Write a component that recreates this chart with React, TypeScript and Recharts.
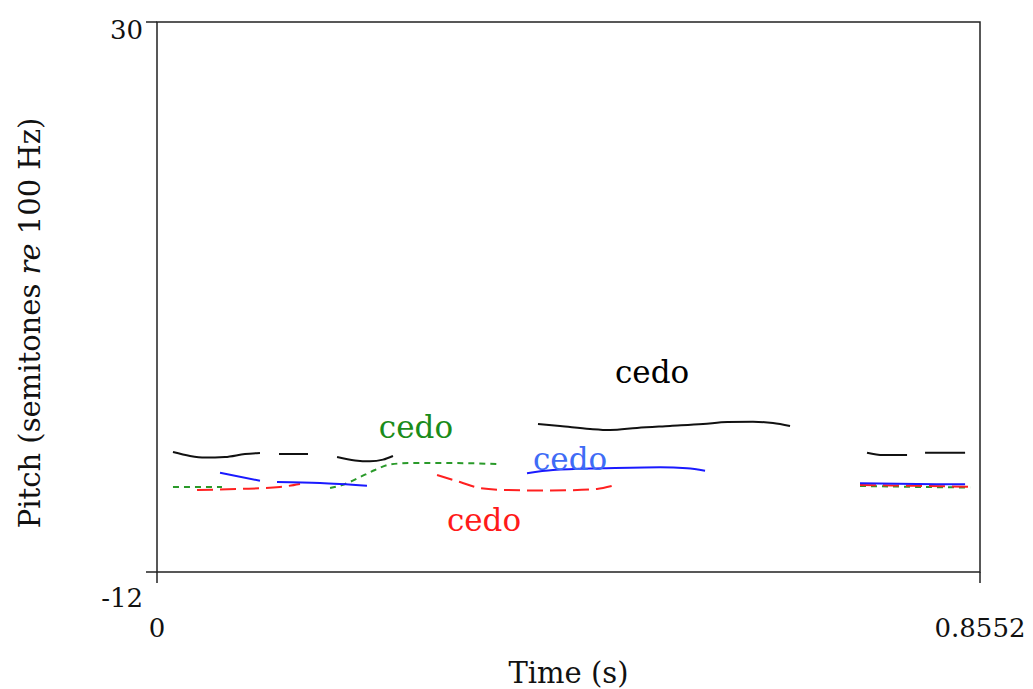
import { LineChart, Line, XAxis, YAxis, ReferenceArea, ReferenceDot, Label } from "recharts";

// pitch contours, time in s, pitch in semitones re 100 Hz (null = unvoiced gap)
const blackT = [0.0166, 0.0343, 0.0499, 0.0707, 0.0914, 0.107, null, 0.1268, 0.1569, null, 0.1871, 0.2058, 0.2213, 0.2349, 0.2452, null, 0.3959, 0.4188, 0.45, 0.4707, 0.4988, 0.5331, 0.5674, 0.5928, 0.6193, 0.6401, 0.6578, null, 0.7378, 0.7544, 0.7794, null, 0.7981, 0.8397];
const blackV = [-2.84, -3.14, -3.26, -3.22, -2.99, -2.91, null, -2.99, -2.99, null, -3.22, -3.48, -3.55, -3.42, -3.14, null, -0.7, -0.85, -1.08, -1.16, -1.0, -0.85, -0.7, -0.55, -0.53, -0.62, -0.85, null, -2.89, -3.07, -3.07, null, -2.89, -2.89];

const blueT = [0.0655, 0.107, null, 0.1247, 0.1694, 0.2182, null, 0.3845, 0.4115, 0.4635, 0.5227, 0.5508, 0.5695, null, 0.7305, 0.7898, 0.8397];
const blueV = [-4.42, -5.03, null, -5.13, -5.2, -5.41, null, -4.46, -4.21, -4.08, -4.0, -4.08, -4.26, null, -5.23, -5.28, -5.3];

const greenT = [0.0166, 0.0675, null, 0.1798, 0.1954, 0.211, 0.2265, 0.2421, 0.2629, 0.3045, 0.3533, null, 0.7305, 0.7887, 0.8449];
const greenV = [-5.51, -5.51, null, -5.59, -5.28, -4.75, -4.21, -3.79, -3.68, -3.68, -3.75, null, -5.43, -5.5, -5.55];

const redT = [0.0416, 0.0863, 0.1278, 0.1486, null, 0.291, 0.3149, 0.3357, 0.3637, 0.398, 0.4292, 0.4572, 0.4728, null, 0.7305, 0.7887, 0.8449];
const redV = [-5.74, -5.66, -5.51, -5.28, null, -4.59, -5.13, -5.59, -5.74, -5.78, -5.76, -5.66, -5.43, null, -5.36, -5.42, -5.49];

// word labels
const labelText = ["cedo", "cedo", "cedo", "cedo"];
const labelT = [0.5144, 0.2691, 0.4292, 0.3398];
const labelV = [3.27, -0.93, -3.37, -8.03];
const labelColors = ["#000000", "#1a8c1a", "#3f6cf6", "#ff1a1a"];

const xTicks = [0, 0.8552];
const yTicks = [-12, 30];
const xTickLabels = ["0", "0.8552"];
const yTickLabels = ["-12", "30"];

const toRows = (ts: (number | null)[], vs: (number | null)[]) =>
  ts.map((t, i) => ({ t: t === null ? (ts[i - 1] as number) + 0.0001 : t, v: vs[i] }));

const FONT = "'DejaVu Serif', serif";

function XTick(props: any) {
  const { x, y, index } = props;
  return (
    <text x={x} y={y + 52} textAnchor="middle" fontSize={26} fontFamily={FONT} fill="#111">
      {xTickLabels[index]}
    </text>
  );
}

function YTick(props: any) {
  const { x, y, index } = props;
  const dy = index === 0 ? 35 : 17;
  return (
    <text x={x} y={y + dy} textAnchor="end" fontSize={26} fontFamily={FONT} fill="#111">
      {yTickLabels[index]}
    </text>
  );
}

function YTitle(props: any) {
  const { viewBox } = props;
  const cy = viewBox.y + viewBox.height / 2 + 26;
  return (
    <text
      x={30}
      y={cy}
      transform={`rotate(-90, 30, ${cy})`}
      textAnchor="middle"
      dominantBaseline="central"
      fontSize={29}
      fontFamily={FONT}
      fill="#111"
    >
      Pitch (semitones <tspan fontStyle="italic">re</tspan> 100 Hz)
    </text>
  );
}

export default function App() {
  return (
    <div style={{ width: 1033, height: 689, fontFamily: FONT, position: "absolute", left: 0, top: 0 }}>
      <style>{`body{margin:0;overflow:hidden}.recharts-surface{overflow:visible}`}</style>
      <LineChart width={1033} height={689} margin={{ top: 22, right: 53, left: 0, bottom: 0 }}>
        <XAxis
          dataKey="t"
          type="number"
          domain={[0, 0.8552]}
          ticks={xTicks}
          axisLine={false}
          tickLine={{ stroke: "#222", strokeWidth: 1.5 }}
          tickSize={11}
          tick={<XTick />}
          height={117}
          allowDataOverflow
        >
          <Label
            value="Time (s)"
            position="insideBottom"
            offset={6}
            fontSize={29}
            fill="#111"
            fontFamily={FONT}
          />
        </XAxis>
        <YAxis
          dataKey="v"
          type="number"
          domain={[-12, 30]}
          ticks={yTicks}
          axisLine={false}
          tickLine={{ stroke: "#222", strokeWidth: 1.5 }}
          tickSize={11}
          tickMargin={3}
          tick={<YTick />}
          width={157}
          allowDataOverflow
        >
          <Label content={<YTitle />} />
        </YAxis>
        <ReferenceArea x1={0} x2={0.8552} y1={-12} y2={30} fill="none" stroke="#222" strokeWidth={1.5} />
        <Line
          data={toRows(greenT, greenV)}
          dataKey="v"
          type="monotone"
          stroke="#2a9a2a"
          strokeWidth={2}
          strokeDasharray="6 5"
          dot={false}
          connectNulls={false}
          isAnimationActive={false}
        />
        <Line
          data={toRows(redT, redV)}
          dataKey="v"
          type="monotone"
          stroke="#ff2020"
          strokeWidth={2}
          strokeDasharray="16 7"
          dot={false}
          connectNulls={false}
          isAnimationActive={false}
        />
        <Line
          data={toRows(blueT, blueV)}
          dataKey="v"
          type="monotone"
          stroke="#1a1aff"
          strokeWidth={2}
          dot={false}
          connectNulls={false}
          isAnimationActive={false}
        />
        <Line
          data={toRows(blackT, blackV)}
          dataKey="v"
          type="monotone"
          stroke="#111"
          strokeWidth={2}
          dot={false}
          connectNulls={false}
          isAnimationActive={false}
        />
        {labelText.map((txt, i) => (
          <ReferenceDot
            key={i}
            x={labelT[i]}
            y={labelV[i]}
            r={0}
            fill="none"
            stroke="none"
            label={{ value: txt, position: "center", fill: labelColors[i], fontSize: 31, fontFamily: FONT }}
          />
        ))}
      </LineChart>
    </div>
  );
}
